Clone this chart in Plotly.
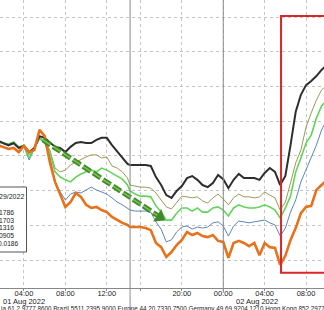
import pandas as pd
import plotly.graph_objects as go

# time of each sample, hours since 2022-08-01 00:00
hours = [1.5, 2, 2.5, 3, 3.5, 4, 4.5, 5, 5.5, 6, 6.5, 7, 7.5, 8, 8.5, 9, 9.5, 10, 10.5, 11,
         11.5, 12, 12.5, 13, 13.5, 14, 15, 15.5, 16, 16.5, 17, 17.5, 18, 18.5, 19, 19.5, 20,
         20.5, 21, 21.5, 22, 22.5, 23, 23.5, 24, 24.5, 25, 25.5, 26, 26.5, 27, 27.5, 28,
         28.5, 29, 29.5, 30, 30.5, 31, 31.5, 32, 32.5, 33, 33.5, 34]

orange = [3.31, 3.26, 3.20, 3.23, 3.11, 3.29, 3.11, 3.17, 3.75, 3.57, 2.82, 2.25, 1.87, 1.53,
          1.67, 1.93, 1.82, 1.59, 1.50, 1.53, 1.44, 1.38, 1.24, 1.15, 1.07, 1.01, 0.95, 0.95,
          0.95, 0.92, 0.86, 0.49, 0.37, 0.09, 0.23, 0.43, 0.58, 0.81, 0.72, 0.78, 0.69, 0.66,
          0.72, 0.55, 0.52, 0.06, 0.49, 0.55, 0.49, 0.40, 0.49, 0.14, 0.49, 0.37, 0.35, -0.14,
          0.12, 0.58, 0.92, 1.35, 1.53, 1.56, 2.02, 2.16, 2.31]
black = [3.43, 3.37, 3.31, 3.37, 3.23, 3.29, 3.11, 3.23, 3.57, 3.52, 3.40, 3.26, 3.23, 3.11,
         3.26, 3.37, 3.40, 3.37, 3.37, 3.46, 3.52, 3.52, 3.31, 3.14, 2.97, 2.77, 2.74, 2.74,
         2.74, 2.74, 2.71, 2.39, 2.16, 1.87, 1.79, 1.99, 2.13, 2.36, 2.42, 2.31, 2.16, 2.10,
         2.22, 2.45, 2.33, 2.07, 2.31, 2.48, 2.36, 2.36, 2.36, 2.31, 2.51, 2.65, 2.54, 2.16,
         2.42, 3.31, 4.27, 4.76, 5.04, 5.16, 5.30, 5.48, 5.62]
olive = [3.43, 3.37, 3.34, 3.40, 3.26, 3.31, 3.03, 3.26, 3.54, 3.43, 3.17, 2.65, 2.54, 2.59,
         2.74, 2.82, 2.88, 2.97, 3.03, 3.03, 2.94, 2.97, 2.71, 2.65, 2.54, 2.36, 2.16, 2.13,
         2.10, 2.10, 2.07, 1.93, 1.73, 1.53, 1.47, 1.67, 1.84, 1.82, 1.79, 1.82, 1.70, 1.64,
         1.79, 1.90, 1.76, 1.59, 1.79, 1.90, 1.82, 1.82, 1.79, 1.82, 1.96, 1.87, 1.79, 1.44,
         1.67, 2.22, 2.80, 3.17, 3.83, 4.24, 4.61, 4.90, 5.04]
green = [3.46, 3.37, 3.34, 3.40, 3.26, 3.29, 2.94, 3.23, 3.52, 3.40, 3.08, 2.54, 2.39, 2.31,
         2.25, 2.39, 2.48, 2.54, 2.59, 2.54, 2.65, 2.59, 2.51, 2.42, 2.33, 2.16, 1.99, 1.90,
         1.84, 1.84, 1.82, 1.56, 1.38, 1.15, 1.15, 1.35, 1.50, 1.50, 1.41, 1.50, 1.38, 1.38,
         1.50, 1.53, 1.44, 1.27, 1.50, 1.59, 1.53, 1.50, 1.50, 1.53, 1.59, 1.53, 1.44, 1.21,
         1.50, 1.84, 2.54, 2.94, 3.37, 3.60, 4.09, 4.44, 4.61]
blue = [3.40, 3.34, 3.29, 3.34, 3.20, 3.26, 2.88, 3.20, 3.49, 3.37, 2.97, 2.25, 1.96, 1.73,
        1.90, 1.96, 1.93, 2.02, 2.10, 2.02, 1.96, 1.90, 1.79, 1.67, 1.59, 1.50, 1.44, 1.41,
        1.41, 1.41, 1.38, 1.10, 0.89, 0.52, 0.58, 0.81, 0.95, 0.98, 0.89, 0.95, 0.92, 0.95,
        1.07, 1.10, 0.98, 0.69, 0.98, 1.12, 1.10, 1.07, 1.10, 1.12, 1.15, 1.07, 1.01, 0.69,
        0.92, 1.38, 1.73, 2.25, 2.59, 2.97, 3.31, 3.75, 4.03]

tick_times = ["2022-08-01 04:00", "2022-08-01 08:00", "2022-08-01 12:00", "2022-08-01 16:00",
              "2022-08-01 20:00", "2022-08-02 00:00", "2022-08-02 04:00", "2022-08-02 08:00"]
tick_text = ["04:00", "08:00", "12:00", "", "20:00", "00:00", "04:00", "08:00"]

legend_lines = ["29/2022", "1786", "1703", "1316", "0905", "0.0186"]
footer = ("ia 61 2 9777 8600 Brazil 5511 2395 9000 Europe 44 20 7330 7500 "
          "Germany 49 69 9204 1210 Hong Kong 852 2977 6000")

ARROW_START = ("2022-08-01 05:50", 3.46)
ARROW_END = ("2022-08-01 17:53", 1.24)
BOX = ("2022-08-02 05:35", "2022-08-02 12:00", -0.37, 7.03)

base = pd.Timestamp("2022-08-01")
times = [base + pd.Timedelta(hours=h) for h in hours]

fig = go.Figure()
series = [
    ("olive", olive, "#9a9a58", 1),
    ("blue", blue, "#5a86bb", 1),
    ("green", green, "#62d45a", 1.6),
    ("black", black, "#2e2e2e", 2),
    ("orange", orange, "#e8711c", 2.6),
]
for name, vals, col, w in series:
    fig.add_trace(go.Scatter(x=times, y=vals, mode="lines", name=name,
                             line=dict(color=col, width=w), showlegend=False,
                             hoverinfo="skip"))

# dashed green arrow
fig.add_trace(go.Scatter(x=[ARROW_START[0], ARROW_END[0]], y=[ARROW_START[1], ARROW_END[1]],
                         mode="lines", line=dict(color="#3f8a26", width=5, dash="9px,3px"),
                         showlegend=False, hoverinfo="skip"))
fig.add_trace(go.Scatter(x=[ARROW_START[0], ARROW_END[0]], y=[ARROW_START[1], ARROW_END[1]],
                         mode="lines", line=dict(color="#7cc456", width=1.5, dash="9px,3px"),
                         showlegend=False, hoverinfo="skip"))
fig.add_trace(go.Scatter(x=[ARROW_END[0]], y=[ARROW_END[1]], mode="markers",
                         marker=dict(symbol="triangle-right", size=13, angle=33,
                                     color="#3f8a26"),
                         showlegend=False, hoverinfo="skip"))

H = 288.0
def py(pix):
    return (H - pix) / H

shapes = [
    dict(type="rect", xref="x", yref="y", x0=BOX[0], x1=BOX[1], y0=BOX[2], y1=BOX[3],
         line=dict(color="#d9262b", width=2), layer="above"),
    dict(type="line", xref="x", yref="paper", x0="2022-08-01 15:00", x1="2022-08-01 15:00",
         y0=py(310), y1=1, line=dict(color="#8a8a8a", width=1)),
    dict(type="line", xref="x", yref="paper", x0="2022-08-02 00:00", x1="2022-08-02 00:00",
         y0=py(292), y1=1, line=dict(color="#8a8a8a", width=1)),
    dict(type="rect", xref="paper", yref="paper", x0=-0.02, x1=26.5 / 324, y0=py(252),
         y1=py(187), fillcolor="white", line=dict(color="#555", width=1), layer="above"),
]

annotations = []
leg_y = [196, 212.5, 220, 227.5, 235, 243]
leg_x = [25.5, 16, 16, 16, 16, 21]
leg_size = [7, 6.8, 6.8, 6.8, 6.8, 6.6]
for t, yy, xx, fs in zip(legend_lines, leg_y, leg_x, leg_size):
    annotations.append(dict(text=t, xref="paper", yref="paper", x=xx / 324, y=py(yy),
                            xanchor="right", yanchor="middle", showarrow=False,
                            font=dict(size=fs, color="#222", family="Liberation Sans")))
annotations.append(dict(text="01 Aug 2022", xref="paper", yref="paper", x=1 / 324, y=py(301.5),
                        xanchor="left", yanchor="middle", showarrow=False,
                        font=dict(size=7.5, color="#222", family="Liberation Sans")))
annotations.append(dict(text="02 Aug 2022", xref="paper", yref="paper", x=234 / 324, y=py(301.5),
                        xanchor="left", yanchor="middle", showarrow=False,
                        font=dict(size=7.5, color="#222", family="Liberation Sans")))
annotations.append(dict(text=footer, xref="paper", yref="paper", x=-1 / 324, y=py(308.5),
                        xanchor="left", yanchor="middle", showarrow=False,
                        font=dict(size=6.3, color="#222", family="Liberation Sans")))

fig.update_layout(
    width=324, height=310, margin=dict(l=0, r=0, t=0, b=22),
    paper_bgcolor="white", plot_bgcolor="white",
    shapes=shapes, annotations=annotations, hovermode=False,
    xaxis=dict(type="date", range=["2022-08-01 01:41", "2022-08-02 09:44"],
               rangebreaks=[dict(values=["2022-08-01 14:15"], dvalue=45 * 60 * 1000)],
               tickmode="array", tickvals=tick_times, ticktext=tick_text,
               showgrid=True, gridcolor="#c4c4c4", griddash="dot", gridwidth=1,
               ticks="outside", ticklen=2, tickcolor="#888", ticklabelstandoff=-4,
               showline=True, linecolor="#888", linewidth=1,
               tickfont=dict(size=7.5, color="#222", family="Liberation Sans"),
               zeroline=False, fixedrange=True),
    yaxis=dict(range=[-0.807, 7.493], tick0=0, dtick=1, showticklabels=False,
               showgrid=True, gridcolor="#c4c4c4", griddash="dot", gridwidth=1,
               zeroline=False, showline=False, ticks="", fixedrange=True),
)

fig.write_html("out.html")
